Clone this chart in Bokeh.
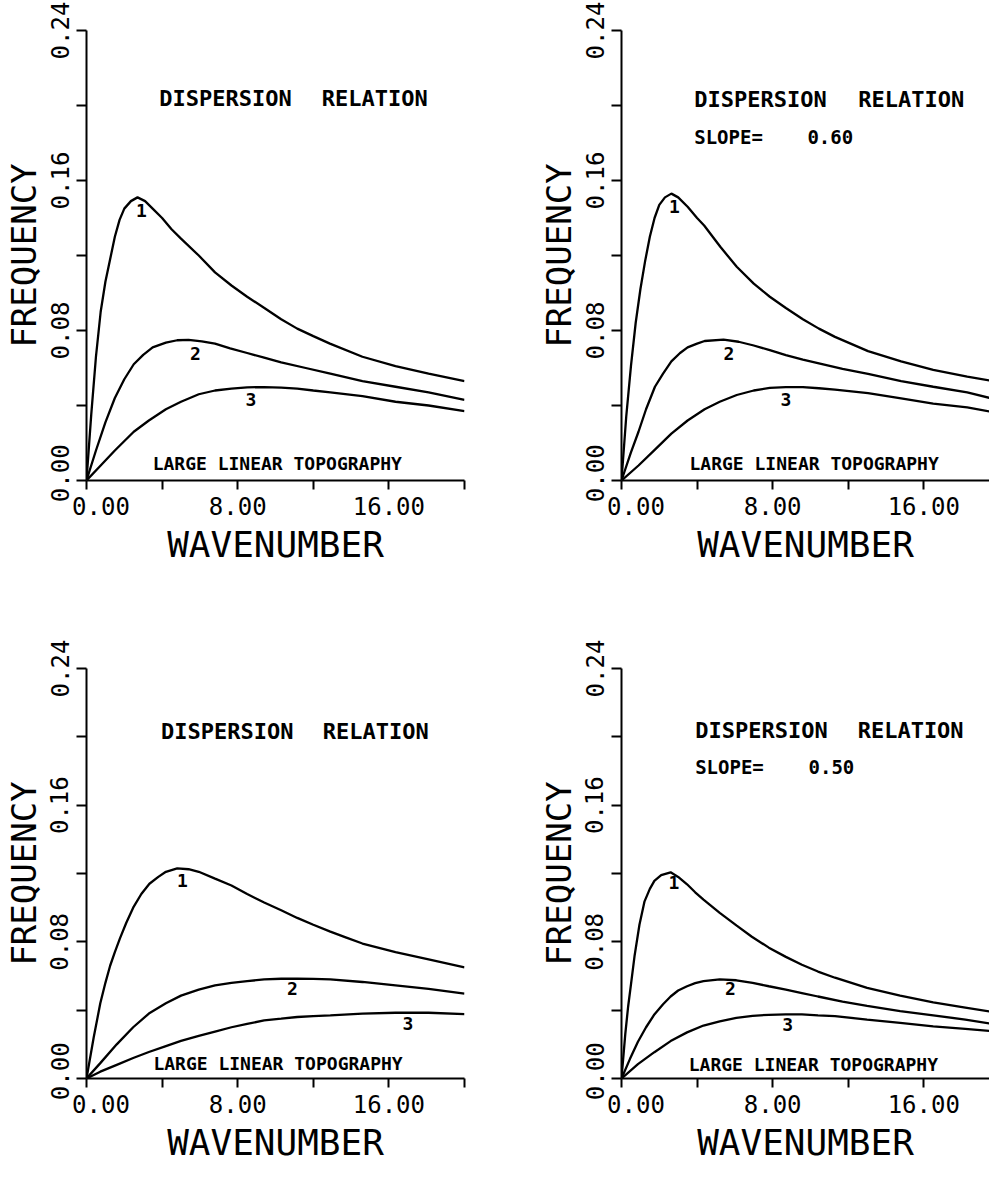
from bokeh.plotting import figure
from bokeh.models import Range1d, FixedTicker, PrintfTickFormatter
from bokeh.layouts import column, row
from bokeh.core.properties import value
from bokeh.embed import file_html
from bokeh.resources import INLINE

# ---------------- data ----------------
x_labeled = [0, 8, 16]
x_unlabeled = [4, 12, 20]
y_labeled = [0.0, 0.08, 0.16, 0.24]
y_unlabeled = [0.04, 0.12, 0.20]
zero_label = "0.00"

# panel A (top-left)
kA1 = [0, 0.25, 0.5, 0.75, 1.0, 1.25, 1.5, 1.75, 2.0, 2.35, 2.7, 3.1, 3.5, 4.0, 4.5, 5.0, 5.94, 6.8, 7.67, 8.5, 9.41, 10.3, 11.15, 12.0, 12.88, 14.6, 16.35, 18.1, 20]
fA1 = [0, 0.035, 0.066, 0.090, 0.106, 0.118, 0.130, 0.139, 0.145, 0.149, 0.151, 0.149, 0.145, 0.140, 0.134, 0.129, 0.120, 0.111, 0.104, 0.098, 0.092, 0.086, 0.081, 0.077, 0.073, 0.066, 0.061, 0.057, 0.053]
kA2 = [0, 0.5, 1.0, 1.5, 2.0, 2.5, 3.0, 3.5, 4.2, 4.8, 5.4, 6.1, 6.8, 7.6, 8.5, 9.4, 10.3, 11.6, 12.9, 14.6, 16.35, 18.1, 20]
fA2 = [0, 0.016, 0.031, 0.044, 0.054, 0.062, 0.067, 0.071, 0.0735, 0.0748, 0.075, 0.0742, 0.073, 0.0705, 0.068, 0.0655, 0.063, 0.060, 0.057, 0.053, 0.050, 0.047, 0.043]
kA3 = [0, 0.75, 1.5, 2.5, 3.3, 4.2, 5.0, 5.94, 6.8, 7.67, 8.5, 9.4, 10.3, 11.15, 12.0, 12.9, 14.6, 16.35, 18.1, 20]
fA3 = [0, 0.008, 0.016, 0.026, 0.032, 0.038, 0.042, 0.046, 0.048, 0.049, 0.0497, 0.0498, 0.0495, 0.049, 0.048, 0.047, 0.045, 0.042, 0.040, 0.037]

# panel B (top-right, slope 0.60)
kB1 = [0, 0.25, 0.5, 0.75, 1.0, 1.25, 1.5, 1.75, 2.0, 2.3, 2.64, 3.0, 3.5, 4.0, 4.375, 5.24, 6.1, 7.0, 7.85, 8.7, 9.6, 10.45, 11.3, 13.05, 14.8, 16.5, 18.3, 19.9]
fB1 = [0, 0.034, 0.061, 0.084, 0.102, 0.117, 0.130, 0.140, 0.147, 0.151, 0.153, 0.151, 0.146, 0.140, 0.136, 0.1245, 0.114, 0.105, 0.098, 0.092, 0.086, 0.081, 0.0766, 0.069, 0.0635, 0.059, 0.0554, 0.0526]
kB2 = [0, 0.5, 0.9, 1.3, 1.77, 2.2, 2.64, 3.1, 3.5, 4.0, 4.4, 5.4, 6.2, 7.0, 7.85, 8.7, 9.6, 10.45, 11.7, 13.05, 14.8, 16.5, 18.3, 19.9]
fB2 = [0, 0.015, 0.026, 0.038, 0.050, 0.057, 0.0635, 0.068, 0.071, 0.073, 0.0744, 0.0751, 0.074, 0.072, 0.0695, 0.0669, 0.0645, 0.0625, 0.0595, 0.0569, 0.053, 0.050, 0.047, 0.043]
kB3 = [0, 0.9, 1.77, 2.64, 3.5, 4.4, 5.2, 6.1, 7.0, 7.85, 8.7, 9.6, 10.45, 11.3, 13.05, 14.8, 16.5, 18.3, 19.9]
fB3 = [0, 0.008, 0.0165, 0.025, 0.032, 0.038, 0.042, 0.0456, 0.048, 0.0494, 0.0498, 0.0498, 0.0492, 0.0485, 0.0466, 0.0438, 0.041, 0.039, 0.036]

# panel C (bottom-left)
kC1 = [0, 0.38, 0.73, 1.0, 1.25, 1.5, 1.77, 2.1, 2.47, 2.9, 3.33, 3.8, 4.2, 4.8, 5.4, 5.94, 6.8, 7.67, 8.5, 9.4, 10.3, 11.15, 12.0, 12.9, 13.75, 14.6, 16.35, 18.1, 20]
fC1 = [0, 0.024, 0.044, 0.056, 0.066, 0.074, 0.082, 0.091, 0.100, 0.108, 0.114, 0.118, 0.121, 0.123, 0.1225, 0.121, 0.117, 0.113, 0.108, 0.103, 0.0985, 0.094, 0.090, 0.086, 0.0825, 0.079, 0.074, 0.0697, 0.065]
kC2 = [0, 0.73, 1.6, 2.47, 3.3, 4.2, 5.0, 5.94, 6.8, 7.67, 8.5, 9.4, 10.3, 11.15, 12.0, 12.9, 14.6, 16.35, 18.1, 20]
fC2 = [0, 0.009, 0.020, 0.030, 0.038, 0.044, 0.0485, 0.052, 0.0545, 0.056, 0.057, 0.058, 0.0584, 0.0585, 0.0583, 0.058, 0.0565, 0.0545, 0.0525, 0.0497]
kC3 = [0, 0.73, 1.6, 2.47, 3.3, 4.2, 5.0, 5.94, 6.8, 7.67, 8.5, 9.4, 10.3, 11.15, 12.0, 12.9, 14.6, 16.35, 18.1, 20]
fC3 = [0, 0.004, 0.008, 0.012, 0.0155, 0.019, 0.022, 0.025, 0.0275, 0.030, 0.032, 0.034, 0.035, 0.036, 0.0365, 0.037, 0.038, 0.0385, 0.0385, 0.0377]

# panel D (bottom-right, slope 0.50)
kD1 = [0, 0.2, 0.35, 0.5, 0.69, 0.95, 1.22, 1.5, 1.74, 2.1, 2.6, 3.0, 3.47, 3.9, 4.34, 5.2, 6.08, 6.9, 7.8, 8.7, 9.55, 10.4, 11.3, 13.0, 14.75, 16.5, 18.2, 19.9]
fD1 = [0, 0.026, 0.042, 0.055, 0.0716, 0.090, 0.1037, 0.111, 0.1157, 0.119, 0.1207, 0.118, 0.1137, 0.109, 0.1047, 0.097, 0.0896, 0.083, 0.0766, 0.0712, 0.0666, 0.0626, 0.059, 0.053, 0.0485, 0.0445, 0.0415, 0.0385]
kD2 = [0, 0.45, 0.87, 1.3, 1.74, 2.2, 2.6, 3.0, 3.47, 3.9, 4.34, 5.2, 6.08, 6.94, 7.8, 8.7, 9.55, 10.4, 11.7, 13.0, 14.75, 16.5, 18.2, 19.9]
fD2 = [0, 0.0115, 0.0215, 0.030, 0.0375, 0.0435, 0.048, 0.0515, 0.054, 0.0558, 0.057, 0.058, 0.0575, 0.056, 0.054, 0.052, 0.050, 0.048, 0.045, 0.0425, 0.0395, 0.037, 0.0345, 0.0315]
kD3 = [0, 0.87, 1.74, 2.6, 3.47, 4.34, 5.2, 6.08, 6.94, 7.8, 8.7, 9.55, 10.4, 11.3, 13.0, 14.75, 16.5, 18.2, 19.9]
fD3 = [0, 0.0084, 0.0154, 0.0219, 0.027, 0.031, 0.0335, 0.0355, 0.0367, 0.0373, 0.0375, 0.0375, 0.037, 0.0365, 0.0345, 0.0325, 0.0305, 0.029, 0.0275]

curve_names = ["1", "2", "3"]
slope_B = "0.60"
slope_D = "0.50"

# ---------------- styling / layout ----------------
INK = "#000000"
MONO = "DejaVu Sans Mono"
NBSP = "\u00a0"
PX_PER_K = 19.2
LEFT_BORDER = 80
BOTTOM_BORDER = 82


def make_panel(curves, name_pos, width, height, min_top, min_right, slope_text=None,
               title_pos=None, slope_pos=None, topo_pos=None):
    frame_w = width - LEFT_BORDER - min_right
    xmax = frame_w / PX_PER_K
    p = figure(width=width, height=height, x_range=Range1d(0, xmax), y_range=Range1d(0, 0.24),
               output_backend="svg", toolbar_location=None,
               min_border_left=LEFT_BORDER, min_border_right=min_right,
               min_border_top=min_top, min_border_bottom=BOTTOM_BORDER)
    p.outline_line_color = None
    p.xgrid.visible = False
    p.ygrid.visible = False
    p.background_fill_color = "white"
    p.border_fill_color = "white"

    for ax in (p.xaxis[0], p.yaxis[0]):
        ax.axis_line_color = INK
        ax.axis_line_width = 2
        ax.major_tick_line_color = INK
        ax.major_tick_line_width = 2
        ax.minor_tick_line_color = INK
        ax.minor_tick_line_width = 2
        ax.major_tick_in = 0
        ax.minor_tick_in = 0
        ax.major_label_text_font = MONO
        ax.major_label_text_font_size = "24px"
        ax.major_label_text_color = INK
        ax.axis_label_text_font = MONO
        ax.axis_label_text_font_style = "normal"
        ax.axis_label_text_color = INK
        ax.axis_label_standoff = 0
        ax.formatter = PrintfTickFormatter(format="%.2f")

    p.xaxis.ticker = FixedTicker(ticks=x_labeled, minor_ticks=x_unlabeled)
    p.yaxis.ticker = FixedTicker(ticks=y_labeled, minor_ticks=y_unlabeled)
    # keep the two "0.00" labels at the corner apart, as in the original
    p.xaxis.major_label_overrides = {0.0: NBSP * 2 + zero_label}
    p.yaxis.major_label_overrides = {0.0: NBSP + zero_label}
    p.xaxis.major_tick_out = 9
    p.xaxis.minor_tick_out = 9
    p.yaxis.major_tick_out = 10
    p.yaxis.minor_tick_out = 10
    p.xaxis.major_label_standoff = 3
    p.yaxis.major_label_standoff = 2
    p.yaxis.major_label_orientation = "vertical"
    p.xaxis.axis_label = "WAVENUMBER"
    p.yaxis.axis_label = "FREQUENCY"
    p.xaxis.axis_label_text_font_size = "36px"
    p.yaxis.axis_label_text_font_size = "34px"

    for k, f in curves:
        p.line(k, f, line_color=INK, line_width=2.3)

    nx, ny = name_pos
    p.text(x=nx, y=ny, text=curve_names, text_font=value(MONO), text_font_style="bold",
           text_font_size="18px", text_align="center", text_baseline="middle", text_color=INK)

    tx, ty = title_pos
    p.text(x=tx, y=[ty, ty], text=["DISPERSION", "RELATION"], text_font=value(MONO),
           text_font_style="bold", text_font_size="22px", text_align="left",
           text_baseline="middle", text_color=INK)
    if slope_text is not None:
        sx, sy = slope_pos
        p.text(x=sx, y=[sy, sy], text=["SLOPE=", slope_text], text_font=value(MONO),
               text_font_style="bold", text_font_size="19px", text_align="left",
               text_baseline="middle", text_color=INK)
    lx, ly = topo_pos
    p.text(x=[lx], y=[ly], text=["LARGE LINEAR TOPOGRAPHY"], text_font=value(MONO),
           text_font_style="bold", text_font_size="18px", text_align="left",
           text_baseline="middle", text_color=INK)
    return p


W_LEFT, W_RIGHT = 535, 454
H_TOP, H_BOT = 567, 598
TOP_TOP, TOP_BOT = 30, 101

pA = make_panel([(kA1, fA1), (kA2, fA2), (kA3, fA3)],
                ([2.9, 5.76, 8.7], [0.144, 0.068, 0.043]),
                W_LEFT, H_TOP, TOP_TOP, 71,
                title_pos=([3.85, 12.45], 0.204), topo_pos=(3.5, 0.009))
pB = make_panel([(kB1, fB1), (kB2, fB2), (kB3, fB3)],
                ([2.8, 5.68, 8.7], [0.146, 0.068, 0.043]),
                W_RIGHT, H_TOP, TOP_TOP, 0, slope_text=slope_B,
                title_pos=([3.85, 12.53], 0.203), slope_pos=([3.85, 9.84], 0.183),
                topo_pos=(3.6, 0.009))
pC = make_panel([(kC1, fC1), (kC2, fC2), (kC3, fC3)],
                ([5.07, 10.9, 17.0], [0.116, 0.0525, 0.032]),
                W_LEFT, H_BOT, TOP_BOT, 71,
                title_pos=([3.94, 12.5], 0.203), topo_pos=(3.54, 0.009))
pD = make_panel([(kD1, fD1), (kD2, fD2), (kD3, fD3)],
                ([2.78, 5.76, 8.8], [0.1146, 0.0525, 0.0315]),
                W_RIGHT, H_BOT, TOP_BOT, 0, slope_text=slope_D,
                title_pos=([3.9, 12.5], 0.2035), slope_pos=([3.9, 9.9], 0.1825),
                topo_pos=(3.56, 0.0084))

layout = column(row(pA, pB, spacing=0), row(pC, pD, spacing=0), spacing=0)

open("out.html", "w").write(file_html(layout, INLINE))
